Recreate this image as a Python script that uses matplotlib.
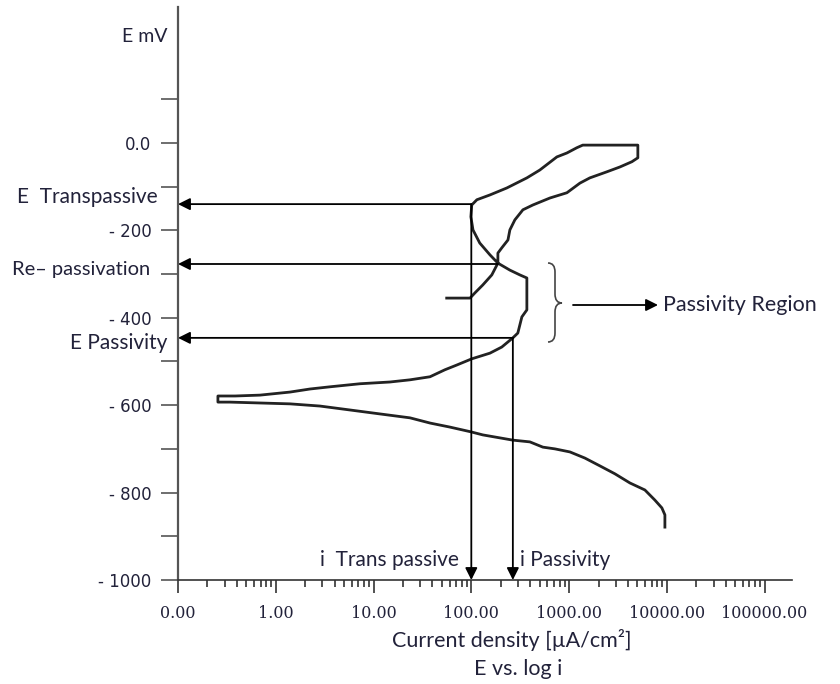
import matplotlib
matplotlib.use("Agg")
import matplotlib.pyplot as plt
import matplotlib.transforms as mtransforms
from matplotlib.path import Path
from matplotlib.patches import PathPatch
from matplotlib.ticker import FixedLocator, LogLocator, NullFormatter

# Curva de polarização E vs. log i (varredura completa, na ordem do traço)
corrente = [9550, 9550, 8890, 7530, 5960, 4190, 2940, 2070, 1450, 1020, 716, 539, 397, 266,
            131, 99, 60, 38, 23.6, 11.6, 5.74, 2.83, 1.40, 0.69, 0.34, 0.256,
            0.256, 0.383, 0.69, 1.40, 2.24, 3.58, 7.26, 14.7, 23.6, 37.8, 53.7, 71.3, 101,
            155, 205, 266, 299, 329, 370, 370, 370, 314, 248, 187, 155, 122, 104, 99, 101,
            114, 155, 231, 370, 502, 750, 950, 1200, 1380, 5050, 5050, 4390, 3310, 2440,
            1630, 1290, 950, 637, 426, 337, 279, 248, 237, 205, 187, 187, 162, 131, 109, 97, 56]
potencial = [-879, -851, -835, -817, -794, -778, -757, -739, -721, -707, -700, -696, -684, -680,
             -668, -661, -650, -641, -629, -620, -611, -602, -597, -595, -593, -593,
             -579, -579, -577, -570, -563, -558, -551, -547, -542, -535, -519, -508, -494,
             -481, -467, -446, -435, -398, -382, -336, -309, -302, -291, -275, -256, -229, -199,
             -169, -142, -130, -119, -103, -80, -62, -32, -23, -11, -5, -5, -34, -43, -55, -66,
             -80, -92, -114, -126, -142, -153, -176, -199, -222, -240, -252, -275, -302, -325,
             -343, -355, -355]

# Pontos característicos
e_transpassivo = -140
e_repassivacao = -277
e_passividade = -446
i_transpassivo = 100
i_repassivacao = 187
i_passividade = 266

x_decadas = [0.1, 1, 10, 100, 1000, 10000, 100000]
x_rotulos = ["0.00", "1.00", "10.00", "100.00", "1000.00", "10000.00", "100000.00"]
y_ticks = list(range(-1000, 101, 100))
y_rotulos = {0: "0.0", -200: "- 200", -400: "- 400", -600: "- 600", -800: "- 800", -1000: "- 1000"}

COR_TEXTO = "#22223a"
ALTURA = 684

fig = plt.figure(figsize=(8.4, 6.84), dpi=100)
ax = fig.add_axes([178 / 840, 1 - 580 / 684, (792 - 178) / 840, (580 - 7) / 684])

ax.plot(corrente, potencial, color="#222222", lw=2.0, clip_on=False, zorder=3)

ax.set_xscale("log")
ax.set_xlim(0.1, 10 ** 5.28)
ax.set_ylim(-1000, 311)

for lado in ["top", "right"]:
    ax.spines[lado].set_visible(False)
ax.spines["left"].set_color("#555555")
ax.spines["left"].set_linewidth(1.6)
ax.spines["bottom"].set_color("#333333")
ax.spines["bottom"].set_linewidth(1.2)

ax.xaxis.set_major_locator(FixedLocator(x_decadas))
ax.xaxis.set_minor_locator(LogLocator(base=10, subs=range(2, 10)))
ax.xaxis.set_minor_formatter(NullFormatter())
ax.set_xticklabels(x_rotulos, fontfamily="DejaVu Serif", fontsize=11.5, color=COR_TEXTO)
ax.tick_params(axis="x", which="major", length=9, width=1.2, color="#333333", pad=9)
ax.tick_params(axis="x", which="minor", length=5, width=1.2, color="#333333")

ax.set_yticks(y_ticks)
ax.set_yticklabels([y_rotulos.get(v, "") for v in y_ticks], fontfamily="DejaVu Sans",
                   fontsize=12, color=COR_TEXTO)
ax.tick_params(axis="y", which="major", length=12, width=1.2, color="#555555", pad=7)

# Setas dos potenciais e correntes
seta = dict(arrowstyle="-|>", color="black", lw=1.3, mutation_scale=18, shrinkA=0, shrinkB=0)
for i_ini, e in [(i_transpassivo, e_transpassivo), (i_repassivacao, e_repassivacao),
                 (i_passividade, e_passividade)]:
    ax.annotate("", xy=(0.1, e), xytext=(i_ini, e), arrowprops=seta, annotation_clip=False)
for i_ini, e in [(i_transpassivo, e_transpassivo), (i_passividade, e_passividade)]:
    ax.annotate("", xy=(i_ini, -1000), xytext=(i_ini, e), arrowprops=seta, annotation_clip=False)


def rotulo(texto, x, y, ha="left", tamanho=15):
    ax.annotate(texto, xy=(x, ALTURA - y), xycoords="figure pixels", ha=ha, va="center",
                fontfamily="Lato", fontsize=tamanho, color=COR_TEXTO, annotation_clip=False)


rotulo("E mV", 167, 37, ha="right", tamanho=14)
rotulo("E  Transpassive", 17, 197)
rotulo("Re\u2013 passivation", 12, 269, tamanho=14.5)
rotulo("E Passivity", 70, 343)
rotulo("i  Trans passive", 320, 560)
rotulo("i Passivity", 520, 560)
rotulo("Passivity Region", 663, 305, tamanho=15.5)
rotulo("Current density [\u00b5A/cm\u00b2]", 512, 640, ha="center", tamanho=15.5)
rotulo("E vs. log i", 518, 669, ha="center", tamanho=15.5)

# Chave da região de passividade
chave = [(548, 263), (555, 263), (555, 272), (555, 294), (555, 303), (562, 303),
         (555, 303), (555, 312), (555, 333), (555, 342), (548, 342)]
codigos = [Path.MOVETO, Path.CURVE3, Path.CURVE3, Path.LINETO, Path.CURVE3, Path.CURVE3,
           Path.CURVE3, Path.CURVE3, Path.LINETO, Path.CURVE3, Path.CURVE3]
trans_px = mtransforms.Affine2D().scale(1, -1).translate(0, ALTURA).scale(1 / fig.dpi) + fig.dpi_scale_trans
fig.add_artist(PathPatch(Path(chave, codigos), transform=trans_px, fill=False,
                         edgecolor="#444444", lw=1.2))
ax.annotate("", xy=(658, ALTURA - 305), xytext=(573, ALTURA - 305), xycoords="figure pixels",
            arrowprops=seta, annotation_clip=False)

fig.savefig("out.png", dpi=100)
